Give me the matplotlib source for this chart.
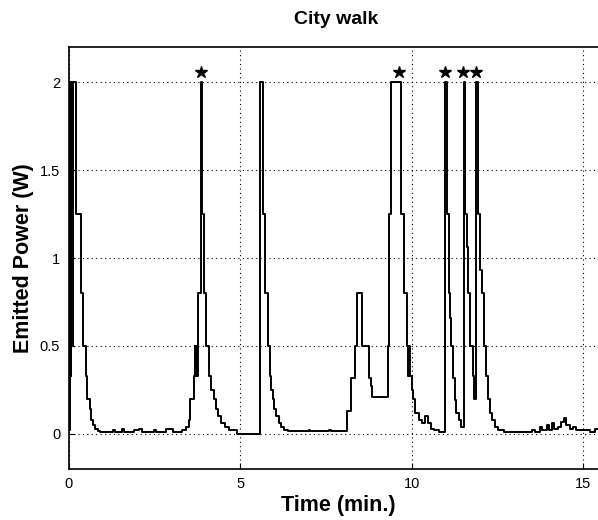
import matplotlib
matplotlib.use("Agg")
import matplotlib.pyplot as plt

plt.rcParams['font.family'] = ['Liberation Sans', 'DejaVu Sans']

# Step-trace of emitted power (time in min, power in W)
time_min = [0.0, 0.03, 0.06, 0.08, 0.11, 0.13, 0.23, 0.37, 0.43, 0.50, 0.54, 0.62, 0.66, 0.72, 0.78, 0.85,
            0.93, 1.30, 1.35, 1.57, 1.63, 1.90, 2.06, 2.14, 2.50, 2.55, 2.85, 2.98, 3.05, 3.30,
            3.41, 3.50, 3.55, 3.65, 3.68, 3.70, 3.72, 3.74, 3.76, 3.78, 3.85, 3.90, 3.95, 4.01, 4.09,
            4.16, 4.24, 4.30, 4.36, 4.45, 4.55, 4.68, 4.90,
            5.58, 5.66, 5.72, 5.80, 5.86, 5.90, 5.95, 6.00, 6.06, 6.12, 6.20, 6.28, 6.40,
            7.00, 7.05, 7.60, 7.65,
            8.12, 8.22, 8.35, 8.40, 8.56, 8.76, 8.82, 8.85, 9.31, 9.34, 9.39, 9.68, 9.78, 9.87,
            9.90, 9.92, 9.95, 10.02, 10.05, 10.10, 10.20, 10.30, 10.40, 10.48, 10.55, 10.65, 10.80,
            10.96, 11.02, 11.09, 11.12, 11.15, 11.20, 11.25, 11.30, 11.37, 11.43,
            11.51, 11.55, 11.60, 11.65, 11.70, 11.78, 11.82,
            11.86, 11.92, 11.99, 12.05, 12.10, 12.16, 12.23, 12.29, 12.35, 12.42, 12.50, 12.70,
            13.50, 13.60, 13.75, 13.80, 13.95, 14.00, 14.10, 14.15, 14.25, 14.35, 14.45, 14.50,
            14.60, 14.70, 14.80, 15.00, 15.20, 15.35, 15.50]
power_w = [0.02, 2.0, 0.33, 2.0, 0.5, 2.0, 1.25, 0.8, 0.5, 0.33, 0.2, 0.14, 0.08, 0.05, 0.03, 0.015,
           0.01, 0.02, 0.01, 0.03, 0.01, 0.02, 0.03, 0.01, 0.02, 0.01, 0.025, 0.03, 0.01, 0.02,
           0.04, 0.08, 0.2, 0.33, 0.5, 0.33, 0.5, 0.33, 0.5, 0.8, 2.0, 1.25, 0.8, 0.5, 0.33,
           0.25, 0.2, 0.14, 0.1, 0.06, 0.04, 0.02, 0.0,
           2.0, 1.25, 0.8, 0.5, 0.33, 0.25, 0.2, 0.14, 0.1, 0.06, 0.04, 0.02, 0.015,
           0.02, 0.015, 0.02, 0.015,
           0.13, 0.32, 0.5, 0.8, 0.5, 0.32, 0.27, 0.21, 0.5, 1.25, 2.0, 1.25, 0.8, 0.5,
           0.33, 0.5, 0.33, 0.25, 0.2, 0.12, 0.08, 0.06, 0.1, 0.06, 0.03, 0.02, 0.01,
           2.0, 1.25, 0.8, 0.66, 0.5, 0.32, 0.19, 0.12, 0.08, 0.04,
           2.0, 1.25, 1.06, 0.8, 0.5, 0.33, 0.2,
           2.0, 1.25, 0.93, 0.8, 0.5, 0.33, 0.2, 0.12, 0.08, 0.04, 0.02, 0.01,
           0.02, 0.01, 0.04, 0.02, 0.05, 0.02, 0.06, 0.03, 0.04, 0.07, 0.09, 0.05,
           0.03, 0.04, 0.02, 0.02, 0.01, 0.03, 0.03]

# Peaks marked with stars
star_time = [3.85, 9.63, 10.96, 11.50, 11.87]
star_power = [2.06, 2.06, 2.06, 2.06, 2.06]

x_ticks = [0, 5, 10, 15]
y_ticks = [0, 0.5, 1, 1.5, 2]
y_tick_labels = ['0', '0.5', '1', '1.5', '2']

fig = plt.figure(figsize=(5.98, 5.20), dpi=100)
ax = fig.add_axes([68.5 / 598, 51 / 520, 532 / 598, 422 / 520])

ax.plot(time_min, power_w, drawstyle='steps-post', color='black', lw=1.4)
ax.plot(star_time, star_power, linestyle='none', marker='*', color='black', markersize=9)

ax.set_xlim(0, 15.5)
ax.set_ylim(-0.2, 2.2)
ax.set_xticks(x_ticks)
ax.set_yticks(y_ticks)
ax.set_yticklabels(y_tick_labels)
ax.tick_params(direction='in', length=4, width=0.8, labelsize=10.5, pad=6)
ax.grid(True, color='black', linestyle=(0, (1, 3)), linewidth=0.8)
for s in ax.spines.values():
    s.set_linewidth(1.2)

fig.text(336 / 598, 1 - 19 / 520, 'City walk', ha='center', va='center', fontsize=14, fontweight='bold')
fig.text(338 / 598, 1 - 506 / 520, 'Time (min.)', ha='center', va='center', fontsize=15.5, fontweight='bold')
fig.text(24 / 598, 1 - 258 / 520, 'Emitted Power (W)', ha='center', va='center', rotation=90,
         fontsize=15.5, fontweight='bold')

fig.savefig('out.png', dpi=100)
